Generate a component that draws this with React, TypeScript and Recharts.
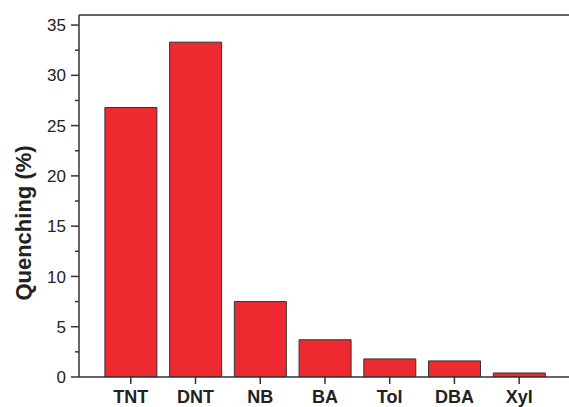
import React from 'react';
import { BarChart, Bar, XAxis, YAxis, ReferenceLine } from 'recharts';

const categories = ['TNT', 'DNT', 'NB', 'BA', 'Tol', 'DBA', 'Xyl'];
const quenching = [26.8, 33.3, 7.5, 3.7, 1.8, 1.6, 0.4];
const yTicks = [0, 2.5, 5, 7.5, 10, 12.5, 15, 17.5, 20, 22.5, 25, 27.5, 30, 32.5, 35];
const xTicks = [1, 2, 3, 4, 5, 6, 7];

const data = categories.map((name, i) => ({ x: i + 1, name, value: quenching[i] }));

const AXIS = '#333333';
const FONT = '"Liberation Sans", Arial, sans-serif';

// y ticks: labelled majors every 5, short minors in between
const YTick = (props: any) => {
    const { x, y, payload } = props;
    const major = payload.value % 5 === 0;
    return (
        <g>
            <line x1={x - (major ? 8 : 4)} x2={x} y1={y} y2={y} stroke={AXIS} strokeWidth={1.5} />
            {major && (
                <text x={x - 13} y={y} dy="0.36em" textAnchor="end" fontSize={17} fill="#222" fontFamily={FONT}>
                    {payload.value}
                </text>
            )}
        </g>
    );
};

const YTitle = () => {
    const cx = 23;
    const cy = 223;
    return (
        <text
            x={cx}
            y={cy}
            transform={`rotate(-90, ${cx}, ${cy})`}
            textAnchor="middle"
            dy="0.36em"
            fontSize={22}
            fontWeight="bold"
            fill="#222"
            fontFamily={FONT}
        >
            Quenching (%)
        </text>
    );
};

export default function App() {
    return (
        <div style={{ position: 'absolute', left: 0, top: 0, background: '#fff' }}>
            <BarChart width={569} height={407} data={data} margin={{ top: 15, right: 0, bottom: 0, left: 0 }}>
                <XAxis
                    dataKey="x"
                    type="number"
                    domain={[0.2, 7.77]}
                    ticks={xTicks}
                    allowDataOverflow
                    height={30}
                    tickFormatter={(v: number) => categories[v - 1]}
                    stroke={AXIS}
                    strokeWidth={1.5}
                    tickSize={7}
                    tickMargin={6}
                    tick={{ fontSize: 18, fontWeight: 'bold', fill: '#222', fontFamily: FONT }}
                />
                <YAxis
                    domain={[0, 36]}
                    ticks={yTicks}
                    width={79}
                    allowDataOverflow
                    stroke={AXIS}
                    strokeWidth={1.5}
                    tickLine={false}
                    tickSize={0}
                    tickMargin={0}
                    tick={<YTick />}
                    interval={0}
                    label={<YTitle />}
                />
                <ReferenceLine y={36} stroke={AXIS} strokeWidth={1.5} />
                <Bar dataKey="value" fill="#EE2A30" stroke="#333" strokeWidth={1} isAnimationActive={false} />
            </BarChart>
        </div>
    );
}
